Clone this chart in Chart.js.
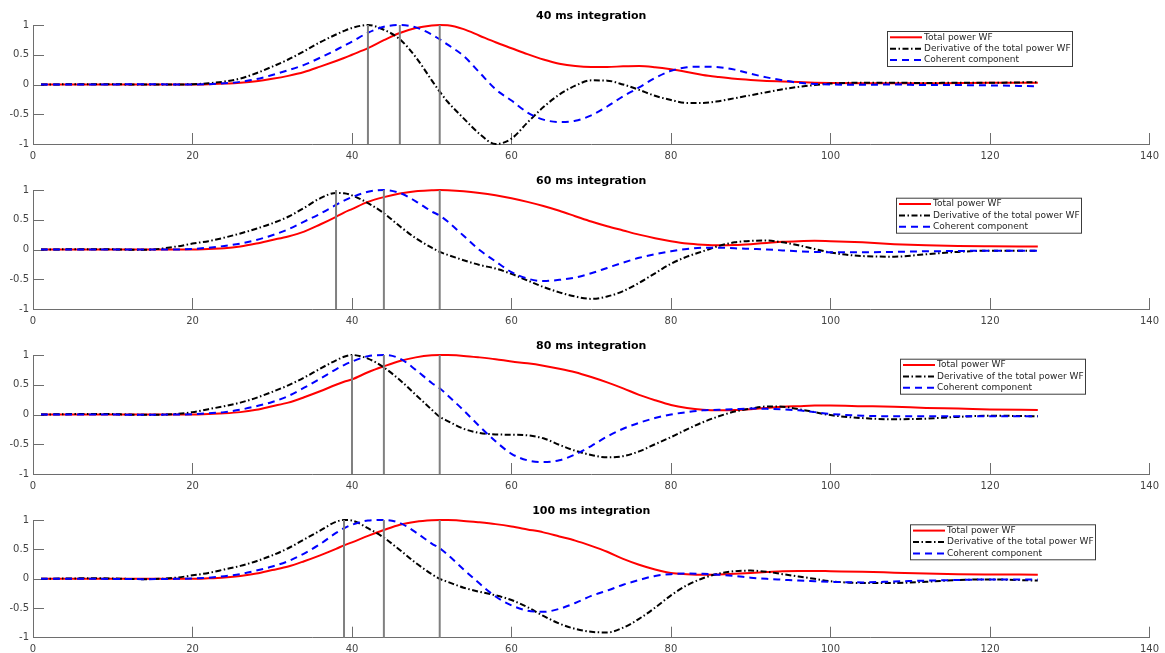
<!DOCTYPE html>
<html>
<head>
<meta charset="utf-8">
<title>Integration time comparison</title>
<script src="https://cdn.jsdelivr.net/npm/chart.js@4.4.1/dist/chart.umd.min.js"></script>
<style>
  html, body { margin: 0; padding: 0; background: #ffffff; }
  #stack { position: relative; width: 1165px; height: 653px; overflow: hidden; }
  #stack canvas { display: block; }
</style>
</head>
<body>
<div id="stack">
  <canvas id="panel40" width="1165" height="165"></canvas>
  <canvas id="panel60" width="1165" height="165"></canvas>
  <canvas id="panel80" width="1165" height="165"></canvas>
  <canvas id="panel100" width="1165" height="158"></canvas>
</div>
<script>
// Sample positions shared by every waveform (x axis units)
const timeMs = [1, 8, 14, 18, 20, 22, 24, 26, 28, 30, 32, 34, 36, 38, 39, 40, 42, 44, 46, 48, 50, 51,
  52, 54, 56, 58, 60, 62, 64, 66, 68, 70, 72, 74, 76, 78, 80, 82, 84, 86, 88, 90, 92, 94, 96, 98, 100,
  104, 108, 112, 116, 120, 126];

// 40 ms integration
const total40 = [0, 0, 0, 0, 0, 0.005, 0.015, 0.03, 0.055, 0.095, 0.145, 0.21, 0.3, 0.395, 0.445, 0.5, 0.61, 0.745, 0.865, 0.95, 0.993, 1.0,
  0.995, 0.93, 0.82, 0.71, 0.61, 0.51, 0.42, 0.35, 0.31, 0.295, 0.295, 0.305, 0.31, 0.29, 0.255, 0.21, 0.16, 0.125, 0.095, 0.075, 0.06, 0.05, 0.04, 0.03, 0.025,
  0.02, 0.02, 0.02, 0.025, 0.03, 0.03];
const deriv40 = [0, 0.005, 0, 0, 0.005, 0.02, 0.05, 0.1, 0.19, 0.3, 0.42, 0.56, 0.71, 0.84, 0.9, 0.95, 1.0, 0.92, 0.76, 0.46, 0.07, -0.12,
  -0.29, -0.57, -0.83, -1.0, -0.91, -0.64, -0.38, -0.17, -0.02, 0.07, 0.065, 0.0, -0.09, -0.19, -0.26, -0.31, -0.31, -0.28, -0.23, -0.18, -0.13, -0.08, -0.04, -0.01, 0.015,
  0.03, 0.03, 0.025, 0.03, 0.03, 0.04];
const coher40 = [0, 0, 0.005, 0, 0, 0.005, 0.02, 0.045, 0.09, 0.16, 0.24, 0.33, 0.45, 0.58, 0.65, 0.72, 0.87, 0.97, 1.0, 0.96, 0.84, 0.76,
  0.67, 0.48, 0.2, -0.08, -0.27, -0.47, -0.59, -0.63, -0.61, -0.52, -0.37, -0.2, -0.05, 0.11, 0.23, 0.29, 0.3, 0.29, 0.25, 0.18, 0.12, 0.07, 0.03, 0.01, 0.0,
  -0.005, 0.0, -0.01, -0.01, -0.015, -0.03];
const peaks40 = [42, 46, 51];

// 60 ms integration
const total60 = [0, 0, 0, 0, 0, 0.01, 0.02, 0.05, 0.1, 0.16, 0.22, 0.3, 0.42, 0.55, 0.62, 0.68, 0.8, 0.88, 0.94, 0.98, 0.995, 1.0,
  0.997, 0.98, 0.95, 0.91, 0.86, 0.8, 0.73, 0.65, 0.56, 0.47, 0.39, 0.32, 0.25, 0.19, 0.14, 0.1, 0.08, 0.07, 0.075, 0.09, 0.11, 0.13, 0.14, 0.145, 0.14,
  0.12, 0.09, 0.07, 0.06, 0.055, 0.05];
const deriv60 = [0, 0.005, -0.005, 0.05, 0.1, 0.14, 0.2, 0.27, 0.35, 0.44, 0.55, 0.7, 0.86, 0.95, 0.945, 0.91, 0.78, 0.61, 0.39, 0.19, 0.03, -0.04,
  -0.09, -0.18, -0.26, -0.32, -0.41, -0.52, -0.63, -0.72, -0.79, -0.83, -0.79, -0.7, -0.56, -0.4, -0.24, -0.12, -0.03, 0.06, 0.12, 0.145, 0.15, 0.12, 0.07, 0.01, -0.05,
  -0.11, -0.12, -0.08, -0.04, -0.02, -0.02];
const coher60 = [0, 0, 0, 0, 0.01, 0.03, 0.06, 0.1, 0.16, 0.24, 0.34, 0.47, 0.6, 0.75, 0.82, 0.88, 0.97, 1.0, 0.95, 0.81, 0.64, 0.57,
  0.47, 0.23, -0.01, -0.2, -0.38, -0.49, -0.53, -0.51, -0.47, -0.4, -0.31, -0.22, -0.14, -0.08, -0.03, 0.01, 0.03, 0.03, 0.02, 0.01, 0.0, -0.015, -0.03, -0.04, -0.045,
  -0.045, -0.04, -0.03, -0.025, -0.02, -0.02];
const peaks60 = [38, 44, 51];

// 80 ms integration
const total80 = [0, 0, 0, 0, 0, 0.01, 0.02, 0.04, 0.08, 0.14, 0.2, 0.29, 0.39, 0.5, 0.55, 0.59, 0.71, 0.81, 0.9, 0.96, 0.995, 1.0,
  0.998, 0.985, 0.96, 0.93, 0.89, 0.86, 0.82, 0.77, 0.71, 0.63, 0.54, 0.44, 0.33, 0.24, 0.16, 0.11, 0.08, 0.07, 0.075, 0.09, 0.11, 0.13, 0.14, 0.15, 0.15,
  0.14, 0.13, 0.11, 0.1, 0.085, 0.075];
const deriv80 = [0, 0.01, -0.005, 0.01, 0.04, 0.09, 0.14, 0.2, 0.28, 0.38, 0.49, 0.62, 0.77, 0.91, 0.97, 1.0, 0.94, 0.79, 0.58, 0.33, 0.08, -0.04,
  -0.11, -0.24, -0.31, -0.335, -0.34, -0.35, -0.4, -0.51, -0.61, -0.68, -0.72, -0.7, -0.62, -0.5, -0.38, -0.25, -0.13, -0.03, 0.05, 0.1, 0.135, 0.13, 0.09, 0.04, -0.01,
  -0.06, -0.08, -0.07, -0.04, -0.02, -0.03];
const coher80 = [0, 0, -0.005, 0, 0.005, 0.02, 0.04, 0.08, 0.14, 0.21, 0.31, 0.45, 0.6, 0.76, 0.83, 0.89, 0.98, 1.0, 0.94, 0.75, 0.53, 0.44,
  0.32, 0.07, -0.2, -0.45, -0.66, -0.77, -0.8, -0.77, -0.67, -0.53, -0.37, -0.24, -0.14, -0.06, 0.0, 0.04, 0.07, 0.08, 0.09, 0.1, 0.095, 0.085, 0.07, 0.04, 0.01,
  -0.02, -0.03, -0.03, -0.03, -0.03, -0.03];
const peaks80 = [40, 44, 51];

// 100 ms integration
const total100 = [0, 0, 0, 0, 0, 0.01, 0.025, 0.05, 0.09, 0.15, 0.21, 0.3, 0.4, 0.51, 0.57, 0.62, 0.73, 0.83, 0.92, 0.97, 0.995, 1.0,
  0.998, 0.985, 0.96, 0.93, 0.89, 0.84, 0.79, 0.72, 0.65, 0.56, 0.46, 0.34, 0.24, 0.16, 0.1, 0.08, 0.07, 0.075, 0.085, 0.1, 0.115, 0.13, 0.135, 0.135, 0.13,
  0.12, 0.105, 0.09, 0.08, 0.075, 0.07];
const deriv100 = [0, 0.01, -0.005, 0.02, 0.06, 0.1, 0.16, 0.22, 0.3, 0.4, 0.52, 0.67, 0.82, 0.97, 1.0, 0.99, 0.86, 0.7, 0.49, 0.27, 0.08, 0.0,
  -0.05, -0.15, -0.22, -0.28, -0.36, -0.48, -0.63, -0.76, -0.85, -0.9, -0.91, -0.83, -0.68, -0.49, -0.28, -0.11, 0.01, 0.09, 0.13, 0.14, 0.12, 0.08, 0.04, 0.0, -0.04,
  -0.07, -0.07, -0.05, -0.02, -0.01, -0.03];
const coher100 = [0, 0, -0.005, 0, 0.005, 0.02, 0.045, 0.08, 0.14, 0.21, 0.3, 0.43, 0.59, 0.78, 0.86, 0.92, 0.99, 1.0, 0.95, 0.79, 0.6, 0.52,
  0.41, 0.16, -0.08, -0.3, -0.45, -0.54, -0.56, -0.51, -0.41, -0.29, -0.2, -0.1, -0.02, 0.05, 0.08, 0.09, 0.085, 0.07, 0.05, 0.02, 0.0, -0.015, -0.03, -0.04, -0.05,
  -0.06, -0.045, -0.03, -0.02, -0.01, -0.01];
const peaks100 = [39, 44, 51];

const panelTitles = ['40 ms integration', '60 ms integration', '80 ms integration', '100 ms integration'];
const seriesLabels = ['Total power WF', 'Derivative of the total power WF', 'Coherent component'];
const xTicks = [0, 20, 40, 60, 80, 100, 120, 140];
const xTickLabels = ['0', '20', '40', '60', '80', '100', '120', '140'];
const yTicks = [-1, -0.5, 0, 0.5, 1];
const yTickLabels = ['-1', '-0.5', '0', '0.5', '1'];
const markerSpan = [-1, 1];

const AXIS_COLOR = '#6e6e6e';
const LABEL_COLOR = '#444444';
const FONT = 'DejaVu Sans';

// Short tick marks pointing into the plot, on the bottom and left axes only
// (marks that would sit on top of the other axis line are skipped)
const inwardTicks = {
  id: 'inwardTicks',
  beforeDatasetsDraw(chart, args, opts) {
    const { ctx, chartArea, scales: { x, y } } = chart;
    ctx.save();
    ctx.strokeStyle = opts.color;
    ctx.lineWidth = 1;
    ctx.beginPath();
    x.ticks.forEach(t => {
      if (t.value === x.min) return;
      const px = Math.round(x.getPixelForValue(t.value)) + 0.5;
      ctx.moveTo(px, chartArea.bottom);
      ctx.lineTo(px, chartArea.bottom - opts.length);
    });
    y.ticks.forEach(t => {
      if (t.value === y.min) return;
      const py = Math.round(y.getPixelForValue(t.value)) + 0.5;
      ctx.moveTo(chartArea.left, py);
      ctx.lineTo(chartArea.left + opts.length, py);
    });
    ctx.stroke();
    ctx.restore();
  }
};

// Boxed legend placed at a fixed spot inside the plot
const boxLegend = {
  id: 'boxLegend',
  afterDatasetsDraw(chart, args, opts) {
    const { ctx } = chart;
    const items = chart.data.datasets.filter(d => d.inLegend);
    ctx.save();
    ctx.fillStyle = '#ffffff';
    ctx.fillRect(opts.left, opts.top, opts.width, opts.height);
    ctx.strokeStyle = '#3c3c3c';
    ctx.lineWidth = 1;
    ctx.strokeRect(opts.left + 0.5, opts.top + 0.5, opts.width, opts.height);
    ctx.font = '9px "' + FONT + '"';
    ctx.textBaseline = 'middle';
    ctx.textAlign = 'left';
    items.forEach((d, i) => {
      const yy = opts.top + 6.3 + i * 11.4;
      ctx.strokeStyle = d.borderColor;
      ctx.lineWidth = d.borderWidth;
      ctx.setLineDash(d.borderDash || []);
      ctx.beginPath();
      ctx.moveTo(opts.left + 3, yy);
      ctx.lineTo(opts.left + 35, yy);
      ctx.stroke();
      ctx.setLineDash([]);
      ctx.fillStyle = '#262626';
      ctx.fillText(d.label, opts.left + 37, yy);
    });
    ctx.restore();
  }
};

function toPoints(ys) {
  return timeMs.map((t, i) => ({ x: t, y: ys[i] }));
}

function makePanel(canvasId, title, total, deriv, coher, peaks, legendLeft, legendTop, axisHeight) {
  const datasets = [
    { label: seriesLabels[0], data: toPoints(total), borderColor: '#ff0000', borderWidth: 2, order: 4, inLegend: true },
    { label: seriesLabels[1], data: toPoints(deriv), borderColor: '#000000', borderWidth: 2, borderDash: [6, 2.5, 1.5, 2.5], order: 3, inLegend: true },
    { label: seriesLabels[2], data: toPoints(coher), borderColor: '#0000ff', borderWidth: 2, borderDash: [7, 5], order: 2, inLegend: true }
  ];
  peaks.forEach(p => {
    datasets.push({
      label: 'peak ' + p,
      data: markerSpan.map(v => ({ x: p, y: v })),
      borderColor: '#808080', borderWidth: 2, order: 1,
      cubicInterpolationMode: 'default', tension: 0
    });
  });

  return new Chart(document.getElementById(canvasId), {
    type: 'line',
    data: { datasets },
    options: {
      responsive: false,
      animation: false,
      layout: { padding: { left: 0, right: 12, top: 0, bottom: 0 } },
      elements: {
        point: { radius: 0 },
        line: { cubicInterpolationMode: 'monotone', borderCapStyle: 'butt', fill: false }
      },
      datasets: { line: { clip: 3 } },
      plugins: {
        legend: { display: false },
        tooltip: { enabled: false },
        title: {
          display: true, text: title, fullSize: false, color: '#000000',
          font: { family: FONT, size: 11, weight: 'bold', lineHeight: 1.2 },
          padding: { top: 9.5, bottom: 2.3 }
        },
        inwardTicks: { length: 11, color: AXIS_COLOR },
        boxLegend: { left: legendLeft, top: legendTop, width: 185, height: 35 }
      },
      scales: {
        x: {
          type: 'linear', min: 0, max: 140,
          afterBuildTicks: axis => { axis.ticks = xTicks.map(v => ({ value: v })); },
          afterFit: axis => { axis.height = axisHeight; },
          ticks: {
            autoSkip: false, maxRotation: 0, padding: 6, color: LABEL_COLOR,
            font: { family: FONT, size: 10 },
            callback: (v, i) => xTickLabels[i]
          },
          grid: { display: false, drawTicks: false },
          border: { display: true, color: AXIS_COLOR, width: 1 }
        },
        y: {
          type: 'linear', min: -1, max: 1,
          afterBuildTicks: axis => { axis.ticks = yTicks.map(v => ({ value: v })); },
          afterFit: axis => { axis.width = 33; },
          ticks: {
            autoSkip: false, padding: 4, color: LABEL_COLOR,
            font: { family: FONT, size: 10 },
            callback: (v, i) => yTickLabels[i]
          },
          grid: { display: false, drawTicks: false },
          border: { display: true, color: AXIS_COLOR, width: 1 }
        }
      }
    },
    plugins: [inwardTicks, boxLegend]
  });
}

makePanel('panel40', panelTitles[0], total40, deriv40, coher40, peaks40, 887, 31, 21);
makePanel('panel60', panelTitles[1], total60, deriv60, coher60, peaks60, 896, 32.7, 21);
makePanel('panel80', panelTitles[2], total80, deriv80, coher80, peaks80, 900, 28.7, 21);
makePanel('panel100', panelTitles[3], total100, deriv100, coher100, peaks100, 910, 29.3, 15.3);
</script>
</body>
</html>
